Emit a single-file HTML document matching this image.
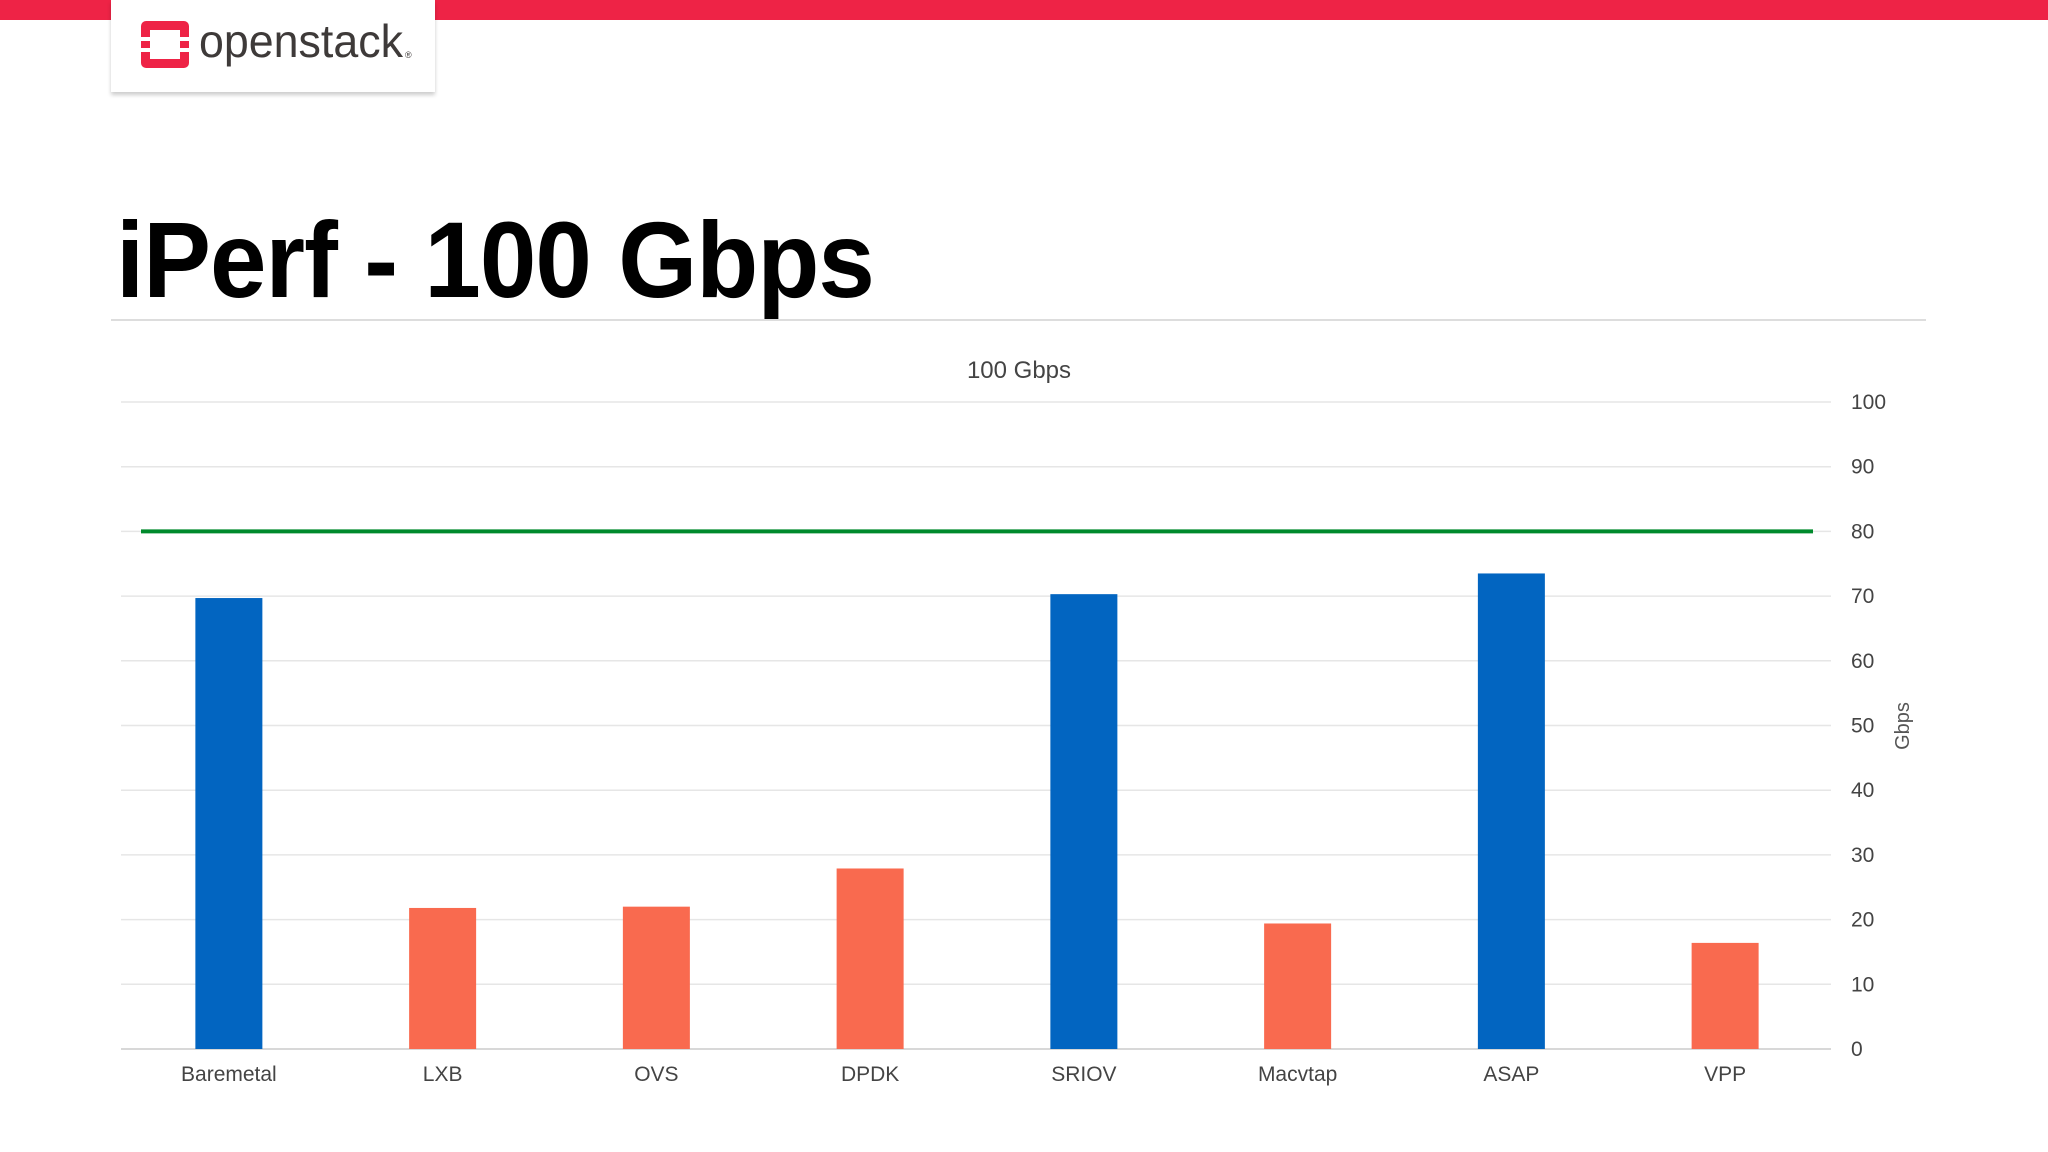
<!DOCTYPE html>
<html><head><meta charset="utf-8"><style>
body{margin:0;width:2048px;height:1152px;background:#fff;overflow:hidden;position:relative;font-family:"Liberation Sans",sans-serif}
.topbar{position:absolute;left:0;top:0;width:2048px;height:20px;background:#ee2346}
.logo{position:absolute;left:111px;top:0;width:324px;height:92px;background:#fff;box-shadow:0 3px 4px rgba(0,0,0,.2)}
.title{position:absolute;left:116px;top:206px;font-size:108px;font-weight:bold;color:#000;letter-spacing:-1px;line-height:1;transform:scaleX(0.94);transform-origin:left top;white-space:nowrap}
.sep{position:absolute;left:111px;top:319px;width:1815px;height:2px;background:#ddd}
svg{position:absolute;left:0;top:0}
</style></head><body>
<div class="topbar"></div>
<div class="logo">
<svg width="324" height="92">
<rect x="30" y="21" width="48" height="47" rx="5" fill="#ee2346"/>
<rect x="39" y="30" width="30" height="29" fill="#fff"/>
<rect x="30" y="37" width="48" height="4" fill="#fff"/><rect x="30" y="48" width="48" height="4" fill="#fff"/>
<text x="88" y="57" font-size="46" fill="#3e3a39" textLength="204" lengthAdjust="spacingAndGlyphs">openstack</text>
<text x="294" y="58" font-size="9" fill="#3e3a39">®</text>
</svg></div>
<div class="title">iPerf - 100 Gbps</div>
<div class="sep"></div>
<svg id="chart" width="2048" height="1152"></svg>
<script>
const categories=["Baremetal","LXB","OVS","DPDK","SRIOV","Macvtap","ASAP","VPP"];
const values=[69.7,21.8,22.0,27.9,70.3,19.4,73.5,16.4];
const highlight=[1,0,0,0,1,0,1,0];
const yTicks=[0,10,20,30,40,50,60,70,80,90,100];
const targetLine=[80];
const NS="http://www.w3.org/2000/svg";
const svg=document.getElementById('chart');
const L=121,R=1831,T=402,B=1049;
const y=v=>B-(v/100)*(B-T);
const band=(R-L)/categories.length;
const x=i=>L+band*(i+0.5);
function mk(tag,attrs,txt){const e=document.createElementNS(NS,tag);for(const k in attrs)e.setAttribute(k,attrs[k]);if(txt!=null)e.textContent=txt;svg.appendChild(e);return e;}
let t=mk('text',{x:1019,y:378,'font-size':24,fill:'#444','text-anchor':'middle'},'100 Gbps');


yTicks.forEach(v=>{
 const g=mk('line',{x1:L,x2:R,y1:y(v),y2:y(v),stroke:v===0?'#ccc':'#e6e6e6','stroke-width':1.5});
 
 
 const lb=mk('text',{x:1851,y:y(v)+7,'font-size':21,fill:'#444'},String(v));
 
 
});
categories.forEach((c,i)=>{
 const w=67;
 const b=mk('rect',{x:x(i)-w/2+1,y:y(values[i]),width:w,height:B-y(values[i]),fill:highlight[i]?'#0265c1':'#f96a4f'});
 
 
 const lb=mk('text',{x:x(i)+1,y:1081,'font-size':21,fill:'#444','text-anchor':'middle'},c);
 
 
});
const gl=mk('line',{x1:141,x2:1813,y1:y(targetLine[0]),y2:y(targetLine[0]),stroke:'#008a2c','stroke-width':4});


const at=mk('text',{x:0,y:0,'font-size':20,fill:'#555','text-anchor':'middle',transform:'translate(1909,726) rotate(-90)'},'Gbps');


</script>
</body></html>
